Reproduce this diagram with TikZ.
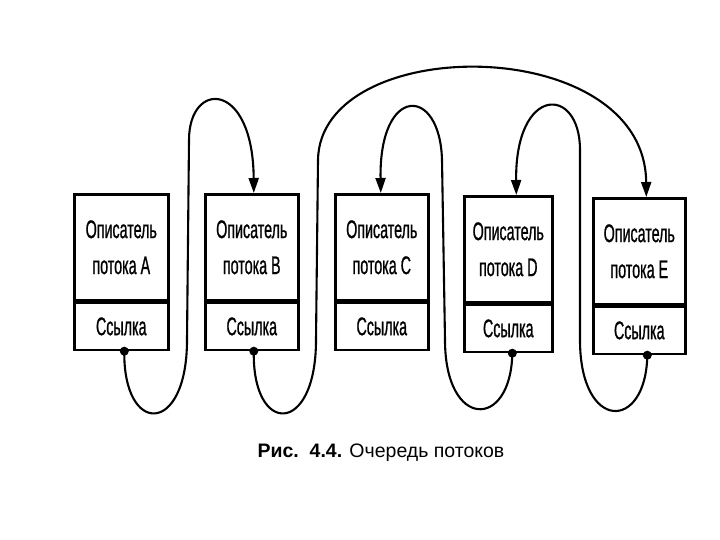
\documentclass[tikz,border=0pt]{standalone}
\usepackage{fontspec}
\setmainfont{Liberation Sans}
\newfontfamily\cf[FakeStretch=0.56,FakeBold=0.8]{Liberation Sans}
\usetikzlibrary{arrows.meta,calc}
\tikzset{
  upbox/.style={draw=black, line width=2.6pt, inner sep=0pt, anchor=north west,
    minimum height=106pt, align=center, font=\cf\fontsize{25.5}{36}\selectfont},
  lowbox/.style={draw=black, line width=2.6pt, inner sep=0pt, anchor=north west,
    minimum height=47pt, font=\cf\fontsize{25.5}{28}\selectfont},
  link/.style={line width=2.1pt, -{Triangle[length=15pt,width=10pt]}},
  dotmark/.style={fill=black}
}
\begin{document}
\begin{tikzpicture}[x=1pt,y=-1pt]
\useasboundingbox (0,0) rectangle (720,540);
% boxes
\node[upbox, minimum width=94pt] (Au) at (73,193) {Описатель\\потока A};
\node[lowbox, minimum width=94pt] (Al) at (Au.south west) {Ссылка};
\node[upbox, minimum width=93pt] (Bu) at (204,193) {Описатель\\потока B};
\node[lowbox, minimum width=93pt] (Bl) at (Bu.south west) {Ссылка};
\node[upbox, minimum width=93pt] (Cu) at (334,193) {Описатель\\потока C};
\node[lowbox, minimum width=93pt] (Cl) at (Cu.south west) {Ссылка};
\node[upbox, minimum width=88pt] (Du) at (463,195) {Описатель\\потока D};
\node[lowbox, minimum width=88pt] (Dl) at (Du.south west) {Ссылка};
\node[upbox, minimum width=92pt] (Eu) at (592,197) {Описатель\\потока E};
\node[lowbox, minimum width=92pt] (El) at (Eu.south west) {Ссылка};
% link start points and arrow targets
\coordinate (dA) at ($(Al.south)+(3,0)$);
\coordinate (dB) at ($(Bl.south)+(2,0)$);
\coordinate (dD) at ($(Dl.south)+(4,0)$);
\coordinate (dE) at ($(El.south)+(8,0)$);
\coordinate (tB) at ($(Bu.north)+(2,0)$);
\coordinate (tC) at ($(Cu.north)+(-1,0)$);
\coordinate (tD) at ($(Du.north)+(8,0)$);
\coordinate (tE) at ($(Eu.north)+(7,0)$);
% A -> B
\draw[link] (dA) .. controls (123,436) and (187,436) .. (187,340)
  -- (189,140) .. controls (189,80) and (253,80) .. (tB);
% B -> E
\draw[link] (dB) .. controls (252,436) and (316,436) .. (316,340)
  -- (318,160) .. controls (320,32) and (645,32) .. (tE);
% E -> D
\draw[link] (dE) .. controls (646,432) and (580,432) .. (580,340)
  -- (580,150) .. controls (580,85) and (515,85) .. (tD);
% D -> C
\draw[link] (dD) .. controls (511,430) and (445,430) .. (445,340)
  -- (442,160) .. controls (440,85) and (379,85) .. (tC);
% dots
\foreach \p in {dA,dB,dD,dE} \fill[dotmark] (\p) circle (4.5pt);
% caption
\node[anchor=base, font=\fontsize{19.5}{22}\selectfont] (title) at (381,457)
  {\textbf{Рис.\ \ 4.4.} Очередь потоков};
\end{tikzpicture}
\end{document}
